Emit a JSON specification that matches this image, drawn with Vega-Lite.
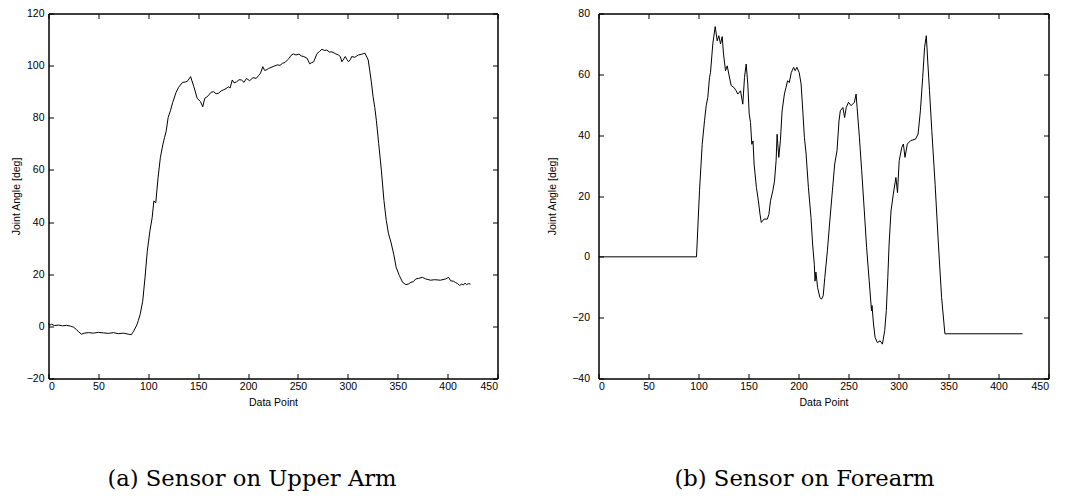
{
  "$schema": "https://vega.github.io/schema/vega-lite/v6.json",
  "background": "white",
  "padding": {"left": 10.5, "top": 7.5, "right": 5, "bottom": 5},
  "bounds": "flush",
  "spacing": 101,
  "config": {
    "view": {"stroke": "#000", "strokeWidth": 1},
    "axis": {
      "labelFont": "Liberation Sans", "labelFontSize": 10.5, "labelColor": "#000",
      "titleFont": "Liberation Sans", "titleFontSize": 10.5, "titleFontWeight": "normal", "titleColor": "#000",
      "domainColor": "#000", "tickColor": "#000", "tickSize": -5, "grid": false
    }
  },
  "datasets": {
    "upper": [
      {"x":0,"v":1.2},{"x":1,"v":0.4},{"x":3,"v":0.8},{"x":6,"v":0.3},{"x":10,"v":0.5},{"x":14,"v":0.2},{"x":18,"v":0.4},{"x":22,"v":0.1},{"x":25,"v":-0.3},{"x":28,"v":-1.2},{"x":30,"v":-2.0},{"x":33,"v":-3.0},{"x":36,"v":-2.6},{"x":40,"v":-2.4},{"x":45,"v":-2.6},{"x":50,"v":-2.3},{"x":55,"v":-2.5},{"x":60,"v":-2.7},{"x":65,"v":-2.4},{"x":70,"v":-2.8},{"x":75,"v":-2.6},{"x":80,"v":-3.0},{"x":83,"v":-3.2},{"x":85.3,"v":-1.9},{"x":88.6,"v":0.6},{"x":90,"v":2.2},{"x":91.8,"v":4.5},{"x":94.4,"v":9.6},{"x":96.7,"v":18.6},{"x":99,"v":28.8},{"x":101.6,"v":36.5},{"x":103.9,"v":41.7},{"x":105.6,"v":48.1},{"x":107.5,"v":47.4},{"x":109.8,"v":57},{"x":112.1,"v":64.7},{"x":114.7,"v":69.9},{"x":116.3,"v":72.4},{"x":118,"v":75},{"x":119.9,"v":80.1},{"x":122.2,"v":82.7},{"x":124.5,"v":85.9},{"x":127.8,"v":89.7},{"x":130.4,"v":91.7},{"x":134.3,"v":93.6},{"x":137,"v":93.7},{"x":139.2,"v":94},{"x":142.4,"v":95.8},{"x":145.7,"v":91.9},{"x":149,"v":87.5},{"x":152.3,"v":86.2},{"x":154.6,"v":84.2},{"x":156.6,"v":87.5},{"x":158.5,"v":87.9},{"x":160.5,"v":88.7},{"x":163,"v":89.8},{"x":165.5,"v":90},{"x":168,"v":89.2},{"x":170.4,"v":89.4},{"x":173,"v":90.3},{"x":175.3,"v":90.7},{"x":178,"v":91.2},{"x":180.3,"v":91.9},{"x":182,"v":91.4},{"x":184.2,"v":94.5},{"x":186,"v":93.4},{"x":188.5,"v":93.8},{"x":191,"v":94.6},{"x":193.4,"v":94.5},{"x":196,"v":93.6},{"x":198.4,"v":95.1},{"x":201.6,"v":94.2},{"x":205,"v":95.4},{"x":208.2,"v":95.1},{"x":210.5,"v":96.2},{"x":212.5,"v":97.1},{"x":214.8,"v":99.6},{"x":216.5,"v":98.2},{"x":218.1,"v":98.3},{"x":220.5,"v":98.9},{"x":223,"v":99.3},{"x":226,"v":99.8},{"x":229.6,"v":100.3},{"x":232,"v":100.1},{"x":234.5,"v":100.9},{"x":237,"v":101.2},{"x":239.5,"v":102.2},{"x":241.1,"v":102.8},{"x":243,"v":103.9},{"x":245.4,"v":104.5},{"x":248,"v":104.1},{"x":251,"v":104.4},{"x":253.5,"v":103.7},{"x":255.9,"v":103.5},{"x":259.2,"v":102.8},{"x":261.8,"v":100.7},{"x":263.5,"v":101.1},{"x":265.8,"v":101.5},{"x":269.1,"v":104.6},{"x":271.5,"v":105.4},{"x":274,"v":106.3},{"x":276.5,"v":105.8},{"x":278.9,"v":106},{"x":281.5,"v":105.2},{"x":284,"v":105.3},{"x":288,"v":104.5},{"x":290.5,"v":104.1},{"x":292.4,"v":103.5},{"x":294,"v":101.5},{"x":296,"v":102.6},{"x":297.4,"v":103.5},{"x":299,"v":102.4},{"x":300.7,"v":101.5},{"x":302.5,"v":102.3},{"x":303.9,"v":103.5},{"x":307,"v":103.2},{"x":310.5,"v":104.1},{"x":313.5,"v":104.3},{"x":317.1,"v":104.8},{"x":320.4,"v":102.2},{"x":322,"v":98},{"x":323.5,"v":94},{"x":325.3,"v":88.1},{"x":327,"v":84},{"x":328.6,"v":79},{"x":330.9,"v":70.2},{"x":333.6,"v":59.9},{"x":336.2,"v":48.3},{"x":338.5,"v":40.7},{"x":340.8,"v":35.5},{"x":343.4,"v":32},{"x":346.1,"v":27.5},{"x":348.4,"v":22.7},{"x":351.6,"v":19.5},{"x":354.9,"v":16.9},{"x":358.2,"v":16},{"x":361,"v":16.3},{"x":363.2,"v":16.9},{"x":365.5,"v":17.1},{"x":368.1,"v":18.2},{"x":371,"v":18.4},{"x":374.7,"v":18.8},{"x":378,"v":18.2},{"x":382.9,"v":17.7},{"x":387,"v":17.9},{"x":392.8,"v":17.7},{"x":398,"v":18.2},{"x":401,"v":18.8},{"x":403,"v":17.5},{"x":405.9,"v":17.3},{"x":408,"v":16.8},{"x":410,"v":16.4},{"x":412,"v":15.7},{"x":414.1,"v":16.2},{"x":416,"v":15.9},{"x":417.5,"v":16.6},{"x":419,"v":16.0},{"x":421,"v":16.4},{"x":423,"v":16.2}
    ],
    "fore": [
      {"x":0,"v":0},{"x":98,"v":0},{"x":101,"v":21.7},{"x":103.7,"v":37},{"x":106,"v":44.7},{"x":107.7,"v":49.7},{"x":109.3,"v":52.4},{"x":111,"v":59},{"x":112,"v":60.6},{"x":114.3,"v":70},{"x":116.7,"v":75.7},{"x":118.7,"v":71},{"x":120.3,"v":72.7},{"x":122,"v":70},{"x":123.7,"v":72.4},{"x":125,"v":66.7},{"x":127,"v":61.2},{"x":128.7,"v":62.8},{"x":130.3,"v":60.1},{"x":132.7,"v":56.3},{"x":135.3,"v":55.7},{"x":137.7,"v":54.6},{"x":139.3,"v":53.5},{"x":142,"v":54.6},{"x":144.3,"v":50.2},{"x":146,"v":59},{"x":147.7,"v":63.4},{"x":149.3,"v":56.8},{"x":150.7,"v":47},{"x":152,"v":44.2},{"x":153.3,"v":37},{"x":154.5,"v":38.1},{"x":155.6,"v":30.5},{"x":157.9,"v":22.8},{"x":159.9,"v":18.4},{"x":161.5,"v":14.0},{"x":162.8,"v":11.3},{"x":165.5,"v":12.4},{"x":168.8,"v":12.4},{"x":170.4,"v":14.0},{"x":172,"v":18.4},{"x":174.3,"v":21.7},{"x":176,"v":24.9},{"x":177.6,"v":31.6},{"x":178.6,"v":40.3},{"x":180.3,"v":32.7},{"x":181.9,"v":38.2},{"x":183.6,"v":48},{"x":185.9,"v":53.5},{"x":187.5,"v":55.7},{"x":189.1,"v":57.9},{"x":190.8,"v":57.3},{"x":192.8,"v":60.6},{"x":195.1,"v":62.3},{"x":196.7,"v":61.2},{"x":198.4,"v":62.3},{"x":200.7,"v":60.6},{"x":202.6,"v":56.8},{"x":204.3,"v":48},{"x":205.9,"v":39.3},{"x":207.6,"v":33.8},{"x":209.9,"v":22.8},{"x":212.5,"v":12.9},{"x":214.1,"v":4.2},{"x":215.8,"v":-2.4},{"x":216.5,"v":-8},{"x":217.4,"v":-5},{"x":219.1,"v":-10.1},{"x":221.4,"v":-13.4},{"x":223,"v":-13.9},{"x":224.7,"v":-12.8},{"x":226.3,"v":-6.8},{"x":228.9,"v":2},{"x":231.3,"v":11.8},{"x":233.9,"v":21.7},{"x":236.2,"v":30.5},{"x":238.5,"v":34.9},{"x":240.5,"v":44.7},{"x":241.8,"v":48},{"x":244.4,"v":49.1},{"x":246.1,"v":45.8},{"x":247.7,"v":49.1},{"x":250,"v":50.8},{"x":252.6,"v":49.7},{"x":255.9,"v":50.8},{"x":257.6,"v":53.5},{"x":258.6,"v":49.1},{"x":260.9,"v":39.3},{"x":263.2,"v":28.3},{"x":265.8,"v":15.1},{"x":268.1,"v":3.1},{"x":270.7,"v":-7.9},{"x":273,"v":-17.7},{"x":273.5,"v":-16},{"x":275,"v":-22.1},{"x":276.6,"v":-26.5},{"x":278.9,"v":-28.2},{"x":281.6,"v":-27.6},{"x":283.9,"v":-28.7},{"x":286.2,"v":-24.3},{"x":287.8,"v":-17.7},{"x":289.3,"v":-6.8},{"x":290.6,"v":4.2},{"x":292.5,"v":15.1},{"x":294.8,"v":20.6},{"x":297.4,"v":26.1},{"x":299,"v":21.1},{"x":300.7,"v":31.6},{"x":303.3,"v":36},{"x":304.9,"v":37.1},{"x":306.5,"v":32.7},{"x":308.8,"v":37.1},{"x":312.1,"v":38.2},{"x":317,"v":38.7},{"x":319.6,"v":40.4},{"x":321.9,"v":48},{"x":324.2,"v":59},{"x":326.1,"v":68.9},{"x":327.8,"v":72.7},{"x":329.4,"v":63.4},{"x":331,"v":54.6},{"x":333.3,"v":41.5},{"x":336.6,"v":23.9},{"x":339.9,"v":4.2},{"x":343.1,"v":-13.4},{"x":346.4,"v":-25.3},{"x":424,"v":-25.3}
    ]
  },
  "hconcat": [
    {
      "width": 449, "height": 365,
      "title": {"text": "(a) Sensor on Upper Arm", "orient": "bottom", "anchor": "middle", "font": "DejaVu Serif", "fontSize": 22.7, "fontWeight": "normal", "color": "#000", "offset": 60, "dx": -21},
      "data": {"name": "upper"},
      "layer": [
        {
          "mark": {"type": "line", "color": "#000", "strokeWidth": 1},
          "encoding": {
            "x": {"field": "x", "type": "quantitative", "scale": {"domain": [0, 450], "nice": false, "zero": false},
                  "axis": {"orient": "bottom", "labels": true, "values": [0,50,100,150,200,250,300,350,400,450], "title": "Data Point", "labelPadding": 8, "titlePadding": 5}},
            "y": {"field": "v", "type": "quantitative", "scale": {"domain": [-20, 120], "nice": false, "zero": false},
                  "axis": {"orient": "left", "labels": true, "values": [-20,0,20,40,60,80,100,120], "title": "Joint Angle [deg]", "labelPadding": 9.5, "titlePadding": 5}}
          }
        },
        {
          "mark": {"type": "line", "strokeOpacity": 0},
          "encoding": {
            "x": {"field": "x", "type": "quantitative", "axis": {"orient": "top", "labels": false, "title": null, "values": [0,50,100,150,200,250,300,350,400,450]}},
            "y": {"field": "v", "type": "quantitative", "axis": {"orient": "right", "labels": false, "title": null, "values": [-20,0,20,40,60,80,100,120]}}
          }
        }
      ]
    },
    {
      "width": 450, "height": 365,
      "title": {"text": "(b) Sensor on Forearm", "orient": "bottom", "anchor": "middle", "font": "DejaVu Serif", "fontSize": 22.7, "fontWeight": "normal", "color": "#000", "offset": 60, "dx": -19},
      "data": {"name": "fore"},
      "layer": [
        {
          "mark": {"type": "line", "color": "#000", "strokeWidth": 1},
          "encoding": {
            "x": {"field": "x", "type": "quantitative", "scale": {"domain": [0, 450], "nice": false, "zero": false},
                  "axis": {"orient": "bottom", "labels": true, "values": [0,50,100,150,200,250,300,350,400,450], "title": "Data Point", "labelPadding": 8, "titlePadding": 5}},
            "y": {"field": "v", "type": "quantitative", "scale": {"domain": [-40, 80], "nice": false, "zero": false},
                  "axis": {"orient": "left", "labels": true, "values": [-40,-20,0,20,40,60,80], "title": "Joint Angle [deg]", "labelPadding": 14, "titlePadding": 14}}
          }
        },
        {
          "mark": {"type": "line", "strokeOpacity": 0},
          "encoding": {
            "x": {"field": "x", "type": "quantitative", "axis": {"orient": "top", "labels": false, "title": null, "values": [0,50,100,150,200,250,300,350,400,450]}},
            "y": {"field": "v", "type": "quantitative", "axis": {"orient": "right", "labels": false, "title": null, "values": [-40,-20,0,20,40,60,80]}}
          }
        }
      ]
    }
  ]
}
